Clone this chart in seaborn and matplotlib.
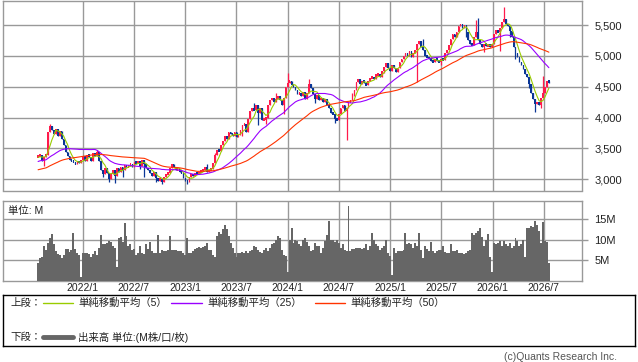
import pandas as pd
import seaborn as sns
import matplotlib
matplotlib.use("Agg")
import matplotlib.pyplot as plt

# weekly closes before the window, only used to warm up the moving averages
prior_closes = [2980, 2950, 3000, 3020, 2990, 2960, 3010, 3050, 3030, 2990, 2970, 3000, 3040,
                3060, 3020, 2990, 3010, 3050, 3080, 3040, 3010, 3030, 3070, 3100, 3060,
                3120, 3180, 3220, 3250, 3200, 3240, 3280, 3300, 3260, 3230, 3270, 3310,
                3340, 3300, 3280, 3320, 3350, 3330, 3300, 3340, 3360, 3320, 3350, 3370]

closes = [
    3380, 3400, 3300, 3360, 3400,
    3760, 3860, 3800, 3740, 3820, 3700,
    3780, 3650, 3560, 3450, 3380, 3320,
    3300, 3280, 3240, 3300, 3260, 3320,
    3380, 3300, 3400, 3360, 3300, 3420, 3380, 3440,
    3300, 3150, 3080, 3180,
    3100, 3000, 3080, 3150, 3050, 3180, 3120, 3200,
    3150, 3230, 3200, 3220, 3250, 3200,
    3280, 3260, 3300, 3220, 3320, 3250, 3180,
    3150, 3100, 3050, 3120, 3020,
    2980, 3000, 2960, 3030, 3080,
    3100, 3180, 3240, 3200, 3150,
    3160, 3120, 3100,
    3020, 2980, 2960, 3040,
    3080, 3060, 3100, 3080, 3120,
    3140, 3160, 3200, 3120, 3150, 3160,
    3260, 3400, 3480, 3460, 3560,
    3620, 3700, 3660, 3760, 3740,
    3700, 3760, 3680, 3720, 3800,
    3880, 3900, 3760, 3980, 4100,
    4150, 4120, 4200, 4080, 4150,
    3960, 3980, 4000, 4200,
    4280, 4320, 4260, 4300, 4350,
    4280, 4200, 4320, 4500,
    4560, 4600, 4520, 4500, 4450,
    4380, 4400, 4350, 4420, 4300, 4400,
    4550, 4480, 4380, 4300,
    4360, 4280, 4320, 4250, 4300,
    4200, 4150, 4080, 4050, 3980, 3960, 4060,
    4150, 4200, 4100, 4150,
    4250, 4280, 4350, 4450,
    4580, 4620, 4550,
    4600, 4560, 4520, 4600, 4640,
    4660, 4620, 4700, 4700, 4650,
    4760, 4820, 4880, 4800, 4760, 4850,
    4800, 4740, 4800,
    4900, 4950, 5000, 5050,
    5000, 5080, 4980, 5050, 5100,
    5200, 5240, 5150, 5100,
    5000, 4980, 4950,
    4920, 4900, 4950, 4920, 4900, 4950, 4930,
    5050, 5100, 5180,
    5280, 5350, 5300, 5380,
    5480, 5520, 5450, 5500, 5380,
    5250, 5200, 5180,
    5300, 5380, 5260, 5200,
    5150, 5200, 5160,
    5180, 5150, 5200,
    5350, 5420, 5380, 5450,
    5550, 5600, 5520,
    5480, 5400, 5300,
    5150, 5050, 4980,
    4900, 4850, 4780,
    4700, 4650, 4550, 4400,
    4300, 4220, 4250,
    4200, 4320, 4400,
    4500, 4600, 4560,
]

volumes = [
    4.2, 5.5, 5.8, 8.3, 7.5, 9.2, 10.4, 11.3, 8.8, 7.1,
    6.5, 6.3, 5.4, 6.3, 7.7, 7.7, 6.9, 7.5, 11.7, 7.7,
    6.8, 6.3, 0.8, 6.7, 6.8, 6.8, 6.5, 5.7, 6.5, 7.3,
    6.3, 7.9, 11.0, 8.8, 9.0, 9.2, 9.6, 9.3, 8.5, 7.9,
    3.3, 10.4, 10.7, 9.5, 14.0, 10.8, 8.5, 8.8, 7.5, 7.7,
    6.3, 6.7, 8.3, 6.7, 6.5, 8.9, 7.7, 9.3, 7.1, 6.7,
    6.7, 11.2, 6.7, 7.5, 7.3, 7.1, 7.5, 10.8, 7.5, 7.5,
    7.5, 7.3, 7.3, 7.1, 6.8, 6.3, 10.4, 6.8, 6.7, 7.2,
    7.7, 7.9, 8.2, 8.0, 8.2, 8.3, 9.2, 7.5, 7.5, 6.3,
    5.8, 10.8, 11.8, 11.3, 12.5, 13.5, 12.5, 10.8, 9.2, 8.0,
    6.7, 5.8, 6.8, 6.7, 6.9, 6.8, 7.1, 6.7, 7.2, 7.5,
    8.3, 8.2, 7.5, 7.0, 6.7, 7.5, 7.9, 7.3, 8.0, 8.8,
    9.2, 9.8, 10.8, 10.4, 7.5, 6.3, 6.0, 2.0, 10.0, 12.7,
    9.2, 9.8, 9.6, 9.0, 8.3, 10.0, 10.4, 9.5, 8.3, 7.1,
    7.5, 9.2, 8.5, 8.3, 6.7, 8.0, 9.6, 11.2, 14.6, 10.0,
    9.8, 9.5, 10.0, 9.2, 7.9, 8.9, 7.5, 7.1, 18.2, 7.3,
    7.7, 7.8, 7.9, 7.9, 7.9, 7.7, 8.0, 8.8, 7.5, 8.3,
    11.7, 10.0, 9.0, 8.3, 7.5, 7.9, 8.5, 10.0, 6.7, 6.0,
    1.3, 7.9, 6.7, 7.1, 7.2, 7.1, 7.5, 11.5, 9.0, 9.2,
    9.0, 7.9, 9.2, 8.5, 11.5, 7.5, 5.4, 8.3, 7.8, 7.3,
    9.3, 7.1, 6.7, 7.1, 7.5, 7.5, 8.3, 7.0, 6.8, 6.7,
    8.8, 7.1, 7.3, 7.5, 6.7, 6.7, 6.8, 6.5, 6.7, 7.1,
    7.5, 11.7, 11.0, 11.5, 12.1, 12.7, 10.5, 8.3, 10.0, 11.3,
    5.8, 2.0, 9.2, 8.8, 9.2, 9.6, 8.3, 9.6, 9.0, 8.5,
    9.2, 7.9, 8.5, 10.4, 9.6, 8.3, 9.0, 10.0, 5.8, 12.7,
    12.9, 13.3, 13.0, 14.6, 13.5, 12.0, 9.2, 14.2, 9.6, 9.3,
    4.2,
]

# notable wicks (week index -> price)
wick_highs = {6: 3900, 30: 3470, 86: 3250, 90: 3430, 110: 4240, 121: 4400,
              127: 4720, 138: 4620, 160: 4400, 196: 5280, 223: 5580, 224: 5620,
              237: 5800, 257: 4680}
wick_lows = {3: 3210, 33: 3030, 36: 2960, 39: 2940, 43: 3030, 52: 3170, 54: 3030,
             60: 2950, 63: 2920, 76: 2930, 104: 3700, 112: 3880, 116: 3900,
             125: 4050, 141: 4230, 151: 3920, 157: 3640, 176: 4720, 193: 4580,
             205: 4860, 218: 5300, 227: 5060, 235: 5085, 240: 5300, 243: 4950,
             250: 4480, 253: 4090, 256: 4150}

first_week = "2021-07-26"
tick_dates = ["2022-01-01", "2022-07-01", "2023-01-01", "2023-07-01", "2024-01-01",
              "2024-07-01", "2025-01-01", "2025-07-01", "2026-01-01", "2026-07-01"]
tick_labels = ["2022/1", "2022/7", "2023/1", "2023/7", "2024/1",
               "2024/7", "2025/1", "2025/7", "2026/1", "2026/7"]
price_ticks = [3000, 3500, 4000, 4500, 5000, 5500]
vol_ticks = [5, 10, 15]
ma_windows = [5, 25, 50]
ma_colors = ["#99cc00", "#9900ff", "#ff3300"]
ma_labels = ["単純移動平均（5）", "単純移動平均（25）", "単純移動平均（50）"]

sns.set_style("white")
plt.rcParams["font.family"] = ["Liberation Sans", "Noto Sans CJK JP"]

all_close = pd.Series(prior_closes + closes, dtype=float)
n0 = len(prior_closes)
df = pd.DataFrame({
    "date": pd.date_range(first_week, periods=len(closes), freq="7D"),
    "close": closes,
    "volume": volumes,
})
df["open"] = all_close.shift(1).iloc[n0:].values
df["high"] = df[["open", "close"]].max(axis=1)
df["low"] = df[["open", "close"]].min(axis=1)
for k, v in wick_highs.items():
    df.loc[k, "high"] = v
for k, v in wick_lows.items():
    df.loc[k, "low"] = v
for w in ma_windows:
    df[f"ma{w}"] = all_close.rolling(w).mean().iloc[n0:].values

up = df["close"] >= df["open"]
colors = ["#ff1a4b" if u else "#0a3696" for u in up]

W, H = 638, 362
fig = plt.figure(figsize=(W / 100, H / 100), dpi=100)
ax = fig.add_axes([3 / W, 1 - 190.5 / H, 579 / W, 189.8 / H])
axv = fig.add_axes([3 / W, 1 - 280.5 / H, 579 / W, 79.5 / H], sharex=ax)

# candles
ax.vlines(df["date"], df["low"], df["high"], colors=colors, lw=0.9, zorder=3)
lo = df[["open", "close"]].min(axis=1)
hi = df[["open", "close"]].max(axis=1)
mid = (lo + hi) / 2
body = (hi - lo).clip(lower=45)
ax.bar(df["date"], body, bottom=mid - body / 2, width=6,
       color=colors, linewidth=0, zorder=3)

for w, c in zip(ma_windows, ma_colors):
    sns.lineplot(data=df, x="date", y=f"ma{w}", ax=ax, color=c, lw=0.8, zorder=4)

axv.bar(df["date"], df["volume"], width=7, color="#666666", linewidth=0, zorder=3)

ax.set_xlim(pd.Timestamp("2021-03-23"), pd.Timestamp("2026-11-15"))
ax.set_ylim(2818, 5894)
axv.set_ylim(0, 19.4)

xt = pd.to_datetime(tick_dates)
ax.set_xticks(xt)
axv.set_xticklabels(tick_labels)

ax.set_yticks(price_ticks)
ax.set_yticklabels([f"{v:,}" for v in price_ticks])
axv.set_yticks(vol_ticks)
axv.set_yticklabels([f"{v}M" for v in vol_ticks])

for a in (ax, axv):
    a.set_xlabel("")
    a.set_ylabel("")
    a.grid(True, color="#999999", lw=1)
    a.set_axisbelow(True)
    a.yaxis.tick_right()
    a.tick_params(axis="y", direction="out", length=4, width=1, color="#999999",
                  labelsize=8, labelcolor="#222222", pad=5)
    for s in a.spines.values():
        s.set_color("#999999")
        s.set_linewidth(1)
ax.tick_params(axis="x", length=0, labelbottom=False)
axv.tick_params(axis="x", length=0, labelsize=7.5, labelcolor="#222222", pad=2)
axv.text(0.008, 0.88, "単位: M", transform=axv.transAxes, fontsize=7.5,
         color="#222222", va="center", ha="left")

# legend box
lg = fig.add_axes([3 / W, 1 - 346 / H, 632 / W, 51 / H])
lg.set_xlim(3, 635)
lg.set_ylim(346, 295)
lg.set_xticks([])
lg.set_yticks([])
for s in lg.spines.values():
    s.set_color("black")
    s.set_linewidth(1)
lg.text(10, 303, "上段：", fontsize=7.5, va="center", color="#222222")
for (x0, x1), c, lab in zip([(43, 73), (171, 202), (315, 345)], ma_colors, ma_labels):
    lg.plot([x0, x1], [303, 303], color=c, lw=1)
    lg.text(x1 + 5, 303, lab, fontsize=7.5, va="center", color="#222222")
lg.text(10, 337, "下段：", fontsize=7.5, va="center", color="#222222")
lg.plot([43, 73], [337, 337], color="#666666", lw=3.5)
lg.text(78, 337, "出来高 単位:(M株/口/枚)", fontsize=7.5, va="center", color="#222222")

fig.text(617 / W, 1 - 357 / H, "(c)Quants Research Inc.", fontsize=7.5,
         color="#555555", ha="right", va="center")

fig.savefig("out.png", dpi=100)
plt.close(fig)
